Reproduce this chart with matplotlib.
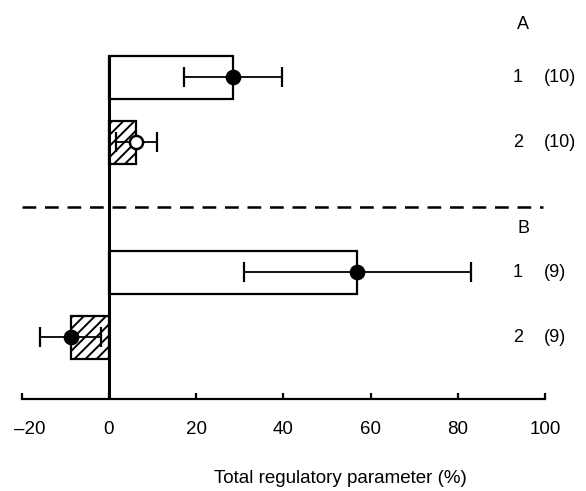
import matplotlib
matplotlib.use("Agg")
import matplotlib.pyplot as plt
from matplotlib.transforms import ScaledTranslation

# ---- data ----
groups = ["A", "A", "B", "B"]
rows = ["1", "2", "1", "2"]
counts = [10, 10, 9, 9]
means = [28.4, 6.3, 57.0, -8.8]
errs = [11.3, 4.8, 26.0, 7.0]
hatched = [False, True, False, True]
marker_filled = [True, False, True, True]
xticks = [-20, 0, 20, 40, 60, 80, 100]
xlabel = "Total regulatory parameter (%)"

# row positions (top to bottom)
ypos = [4, 3, 1, 0]
sep_y = 2.0

plt.rcParams["font.family"] = ["Liberation Sans", "DejaVu Sans"]
plt.rcParams["hatch.linewidth"] = 1.4

fig = plt.figure(figsize=(5.86, 4.91), dpi=100)
ax = fig.add_axes([0.0372, 0.1869, 0.9597, 0.8075])
ax.set_xlim(-20, 109)
ax.set_ylim(-0.95, 5.15)

bh = 0.66
for y, m, e, h, f in zip(ypos, means, errs, hatched, marker_filled):
    ax.barh(y, m, height=bh, left=0, facecolor="white", edgecolor="black",
            linewidth=1.6, hatch="///" if h else None, zorder=2)
    ax.errorbar(m, y, xerr=e, fmt="none", ecolor="black", elinewidth=1.3,
                capsize=7, capthick=1.6, zorder=3)
    ax.plot(m, y, "o", markersize=9.5, markerfacecolor="black" if f else "white",
            markeredgecolor="black", markeredgewidth=1.8, zorder=4)

# zero line
ax.vlines(0, -0.95, ypos[0] + bh / 2, colors="black", linewidth=2.2, zorder=5)

# separator dashed line
ax.plot([-20, 99.5], [sep_y, sep_y], color="black", linewidth=1.8,
        dashes=(5.5, 3.5), zorder=1)

# right-hand labels
ax.text(95, 4.81, "A", ha="center", va="center", fontsize=13, clip_on=False)
ax.text(95, 1.68, "B", ha="center", va="center", fontsize=13, clip_on=False)
for y, r, n in zip(ypos, rows, counts):
    ax.text(93.8, y, r, ha="center", va="center", fontsize=13, clip_on=False)
    ax.text(99.8, y, f"({n})", ha="left", va="center", fontsize=13, clip_on=False)

# axes styling
for s in ["left", "top", "right"]:
    ax.spines[s].set_visible(False)
ax.spines["bottom"].set_bounds(-20, 100)
ax.spines["bottom"].set_linewidth(1.6)
ax.set_yticks([])
ax.set_xticks(xticks)
ax.set_xticklabels([f"\u2013{abs(t)}" if t < 0 else str(t) for t in xticks])
ax.tick_params(axis="x", direction="in", length=4.5, width=1.6, pad=16,
               labelsize=13.5)
# the negative label sits with its digits roughly centred on the tick
first = ax.get_xticklabels()[0]
first.set_transform(first.get_transform() + ScaledTranslation(6 / 72, 0, fig.dpi_scale_trans))

fig.text(0.58, 0.026, xlabel, ha="center", va="center", fontsize=13.5)

fig.savefig("out.png", dpi=100)
